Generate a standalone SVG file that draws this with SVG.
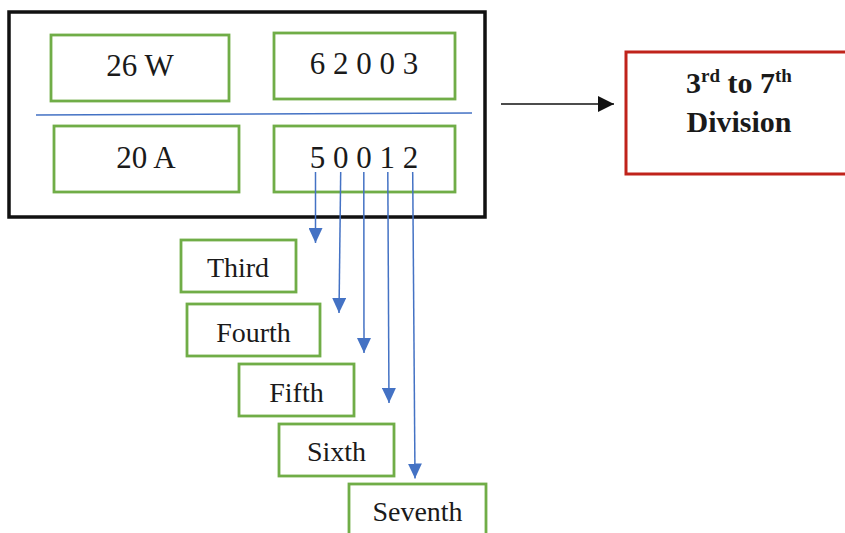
<svg xmlns="http://www.w3.org/2000/svg" width="845" height="533" viewBox="0 0 845 533">
  <style>
    .box { fill: #ffffff; stroke: #70ad47; stroke-width: 2.8; }
    .big { font-family: "Liberation Serif", "Times New Roman", serif; font-size: 31px; fill: #1a1a1a; text-anchor: middle; }
    .lbl { font-family: "Liberation Serif", "Times New Roman", serif; font-size: 28px; fill: #1a1a1a; text-anchor: middle; }
    .bold { font-family: "Liberation Serif", "Times New Roman", serif; font-size: 30px; font-weight: bold; fill: #1a1a1a; text-anchor: middle; }
    .digit { stroke: #4472c4; stroke-width: 1.5; fill: none; marker-end: url(#blueHead); }
  </style>
  <defs>
    <marker id="blueHead" viewBox="0 0 15 14" refX="15" refY="7" markerWidth="15" markerHeight="14" markerUnits="userSpaceOnUse" orient="auto">
      <path d="M0,0 L15,7 L0,14 Z" fill="#4472c4"/>
    </marker>
    <marker id="blackHead" viewBox="0 0 16 16" refX="16" refY="8" markerWidth="16" markerHeight="16" markerUnits="userSpaceOnUse" orient="auto">
      <path d="M0,0 L16,8 L0,16 Z" fill="#111111"/>
    </marker>
  </defs>

  <rect width="845" height="533" fill="#ffffff"/>

  <!-- outer frame holding the code -->
  <g id="frame">
    <rect x="9" y="12" width="476" height="205" fill="#ffffff" stroke="#111111" stroke-width="3.5"/>
    <line x1="36" y1="115" x2="472" y2="113" stroke="#4472c4" stroke-width="1.3"/>
  </g>

  <g id="n26w">
    <rect class="box" x="51" y="35" width="178" height="66"/>
    <text class="big" x="140" y="76">26 W</text>
  </g>
  <g id="n62003">
    <rect class="box" x="274" y="33" width="181" height="66"/>
    <text class="big" x="364" y="74">6 2 0 0 3</text>
  </g>
  <g id="n20a">
    <rect class="box" x="54" y="126" width="185" height="66"/>
    <text class="big" x="146" y="168">20 A</text>
  </g>
  <g id="n50012">
    <rect class="box" x="274" y="126" width="181" height="66"/>
    <text class="big" x="364" y="168">5 0 0 1 2</text>
  </g>

  <g id="division">
    <rect x="626" y="52" width="240" height="122" fill="#ffffff" stroke="#c0231b" stroke-width="3"/>
    <text class="bold" x="739" y="93">3<tspan font-size="19" dy="-11">rd</tspan><tspan dy="11"> to 7</tspan><tspan font-size="19" dy="-11">th</tspan></text>
    <text class="bold" x="739" y="132">Division</text>
  </g>

  <g id="third">
    <rect class="box" x="181" y="240" width="115" height="52"/>
    <text class="lbl" x="238" y="277">Third</text>
  </g>
  <g id="fourth">
    <rect class="box" x="187" y="304" width="133" height="52"/>
    <text class="lbl" x="253.5" y="341.5">Fourth</text>
  </g>
  <g id="fifth">
    <rect class="box" x="239" y="364" width="115" height="52"/>
    <text class="lbl" x="296.5" y="401.5">Fifth</text>
  </g>
  <g id="sixth">
    <rect class="box" x="279" y="424" width="115" height="52"/>
    <text class="lbl" x="336.5" y="461">Sixth</text>
  </g>
  <g id="seventh">
    <rect class="box" x="349" y="484" width="137" height="60"/>
    <text class="lbl" x="417.5" y="521">Seventh</text>
  </g>

  <g id="connectors">
    <line x1="501" y1="104" x2="614" y2="104" stroke="#111111" stroke-width="1.5" marker-end="url(#blackHead)"/>
    <line class="digit" x1="315.5" y1="172" x2="315.5" y2="243"/>
    <line class="digit" x1="340.7" y1="172" x2="339" y2="313"/>
    <line class="digit" x1="363.8" y1="172" x2="364" y2="353"/>
    <line class="digit" x1="387.8" y1="172" x2="389" y2="403"/>
    <line class="digit" x1="412.7" y1="172" x2="415" y2="478.5"/>
  </g>
</svg>
